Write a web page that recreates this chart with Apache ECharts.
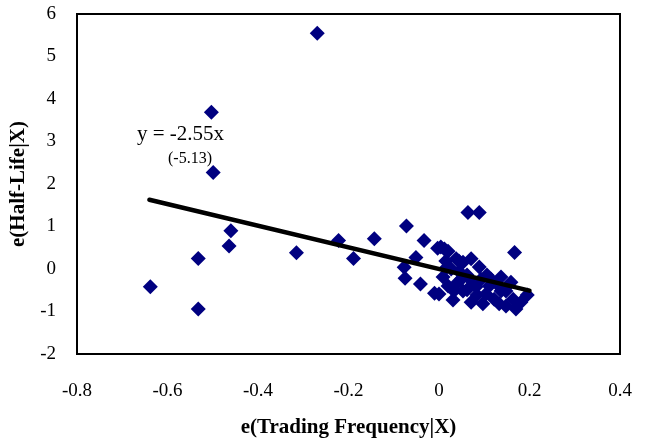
<!DOCTYPE html>
<html>
<head>
<meta charset="utf-8">
<script src="https://cdn.jsdelivr.net/npm/echarts@6/dist/echarts.min.js"></script>
<style>
html,body{margin:0;padding:0;background:#fff;}
#chart{width:645px;height:443px;}
</style>
</head>
<body>
<div id="chart"></div>
<script>
// Scatter points: residual of trading frequency (x) vs residual of half-life (y)
const pointsX = [
  -0.638, -0.532, -0.532, -0.503, -0.499, -0.460, -0.464, -0.315, -0.269, -0.222,
  -0.189, -0.143, -0.072, -0.033, -0.051, -0.077, -0.075, -0.041, -0.010, -0.003,
  0.004, 0.020, 0.015, 0.038, 0.053, 0.044, 0.027, 0.062, 0.075, 0.093,
  0.111, 0.126, 0.137, 0.159, 0.164, 0.148, 0.170, 0.195, 0.122, 0.097,
  0.071, 0.031, 0.053, 0.020, 0.040, 0.089, 0.071, 0.106, 0.137, 0.062,
  0.084, 0.148, 0.049, 0.009, 0.064, 0.089, 0.167, 0.000, 0.012,
  0.015, 0.044, 0.104, 0.133, 0.181, 0.082, 0.033, 0.115
];
const pointsY = [
  -0.42, 0.25, -0.94, 3.69, 2.27, 0.90, 0.54, 0.38, 5.55, 0.67,
  0.25, 0.71, 1.01, 0.67, 0.27, 0.04, -0.22, -0.35, -0.57, 0.49,
  0.52, 0.42, 0.19, 0.24, 0.16, -0.05, 0.00, -0.14, -0.31, -0.24,
  -0.40, -0.33, -0.52, -0.31, -0.71, -0.87, -0.94, -0.61, -0.71, -0.82,
  -0.78, -0.73, -0.52, -0.40, -0.33, 0.05, 0.24, -0.14, -0.19, -0.49,
  -0.61, -0.52, -0.24, -0.19, 1.33, 1.33, 0.39, -0.59, 0.47,
  0.02, 0.19, -0.59, -0.82, -0.78, -0.42, -0.52, -0.24
];
// Fitted line y = -2.55x, drawn between its end points
const trendX = [-0.64, 0.20];
const trendY = [1.63, -0.51];

const xTicks = ['-0.8', '-0.6', '-0.4', '-0.2', '0', '0.2', '0.4'];
const yTicks = ['-2', '-1', '0', '1', '2', '3', '4', '5', '6'];
const equationText = 'y = -2.55x';
const tStatText = '(-5.13)';
const xName = 'e(Trading Frequency|X)';
const yName = 'e(Half-Life|X)';

const scatterData = pointsX.map((x, i) => [x, pointsY[i]]);
const trendData = trendX.map((x, i) => [x, trendY[i]]);

const FONT = '"Liberation Serif", "Times New Roman", serif';
const chart = echarts.init(document.getElementById('chart'), null, {renderer: 'canvas'});
chart.setOption({
  animation: false,
  backgroundColor: '#ffffff',
  grid: {
    left: 77, right: 25, top: 14, bottom: 89,
    show: true, borderColor: '#000', borderWidth: 2, backgroundColor: 'transparent'
  },
  xAxis: {
    type: 'value', min: -0.8, max: 0.4, interval: 0.2,
    axisLine: {show: true, onZero: false, lineStyle: {color: '#000', width: 2}},
    axisTick: {show: false},
    splitLine: {show: false},
    axisLabel: {
      margin: 28, fontFamily: FONT, fontSize: 19, color: '#000',
      formatter: (v) => xTicks[Math.round((v + 0.8) / 0.2)]
    },
    name: xName, nameLocation: 'middle', nameGap: 63,
    nameTextStyle: {fontFamily: FONT, fontSize: 21, fontWeight: 'bold', color: '#000'}
  },
  yAxis: {
    type: 'value', min: -2, max: 6, interval: 1,
    axisLine: {show: true, onZero: false, lineStyle: {color: '#000', width: 2}},
    axisTick: {show: false},
    splitLine: {show: false},
    axisLabel: {
      margin: 21, fontFamily: FONT, fontSize: 19, color: '#000',
      formatter: (v) => yTicks[Math.round(v + 2)]
    },
    name: yName, nameLocation: 'middle', nameGap: 42, nameRotate: 90,
    nameTextStyle: {fontFamily: FONT, fontSize: 21, fontWeight: 'bold', color: '#000'}
  },
  series: [
    {
      type: 'scatter', data: scatterData, symbol: 'diamond', symbolSize: 15,
      itemStyle: {color: '#000080', opacity: 1}, z: 2
    },
    {
      type: 'line', data: trendData, symbol: 'none',
      lineStyle: {color: '#000', width: 4.5, cap: 'round'}, z: 3
    }
  ],
  graphic: [
    {
      type: 'text', left: 137, top: 124,
      style: {text: equationText, font: '21px ' + FONT, fill: '#000'}
    },
    {
      type: 'text', left: 168, top: 151,
      style: {text: tStatText, font: '16px ' + FONT, fill: '#000'}
    }
  ]
});
</script>
</body>
</html>
